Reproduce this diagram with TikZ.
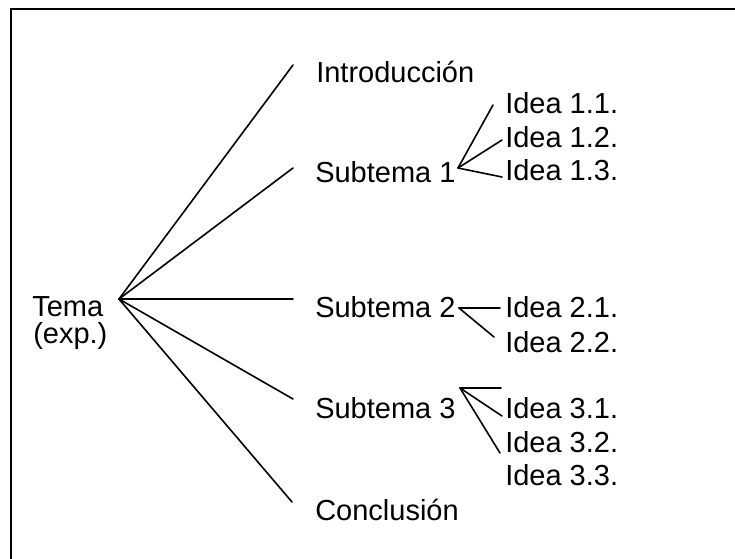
\documentclass[tikz,border=0pt]{standalone}
\usepackage{fontspec}
\setmainfont{Liberation Sans}
\begin{document}
\begin{tikzpicture}[x=0.75pt,y=-0.75pt,
  lbl/.style={anchor=base west,inner sep=0pt,font=\fontsize{21.75pt}{26pt}\selectfont},
  conn/.style={line width=1.2pt,line cap=round},
  frame/.style={line width=1.8pt}]
\useasboundingbox (0,0) rectangle (735,558);
\draw[frame] (11,560) -- (11,9) -- (737,9);
% texts
\node[lbl] (tema) at (32,316) {Tema};
\node[lbl] (exp) at (33,343) {(exp.)};
\node[lbl] (intro) at (316,82) {Introducción};
\node[lbl] (s1) at (315,182) {Subtema 1};
\node[lbl] (s2) at (315,317) {Subtema 2};
\node[lbl] (s3) at (315,418) {Subtema 3};
\node[lbl] (concl) at (315,520) {Conclusión};
\node[lbl] (i11) at (505,113) {Idea 1.1.};
\node[lbl] (i12) at (505,147) {Idea 1.2.};
\node[lbl] (i13) at (505,180) {Idea 1.3.};
\node[lbl] (i21) at (505,317) {Idea 2.1.};
\node[lbl] (i22) at (505,352) {Idea 2.2.};
\node[lbl] (i31) at (505,418) {Idea 3.1.};
\node[lbl] (i32) at (505,452) {Idea 3.2.};
\node[lbl] (i33) at (505,485) {Idea 3.3.};
% hubs and ends
\coordinate (h0) at (119,299);
\coordinate (eintro) at (293,65);
\coordinate (es1) at (293,168);
\coordinate (es2) at (293,299);
\coordinate (es3) at (293,399);
\coordinate (econcl) at (292,502);
\coordinate (h1) at (458,168);
\coordinate (e11) at (493,105);
\coordinate (e12) at (502,140);
\coordinate (e13) at (502,177);
\coordinate (h2) at (459,308);
\coordinate (e21) at (500,308);
\coordinate (e22) at (494,337);
\coordinate (h3) at (460,388);
\coordinate (e3a) at (501,388);
\coordinate (e31) at (502,416);
\coordinate (e32) at (500,453);
% connectors
\draw[conn] (h0) -- (eintro);
\draw[conn] (h0) -- (es1);
\draw[conn] (h0) -- (es2);
\draw[conn] (h0) -- (es3);
\draw[conn] (h0) -- (econcl);
\draw[conn] (h1) -- (e11);
\draw[conn] (h1) -- (e12);
\draw[conn] (h1) -- (e13);
\draw[conn] (h2) -- (e21);
\draw[conn] (h2) -- (e22);
\draw[conn] (h3) -- (e3a);
\draw[conn] (h3) -- (e31);
\draw[conn] (h3) -- (e32);
\end{tikzpicture}
\end{document}
